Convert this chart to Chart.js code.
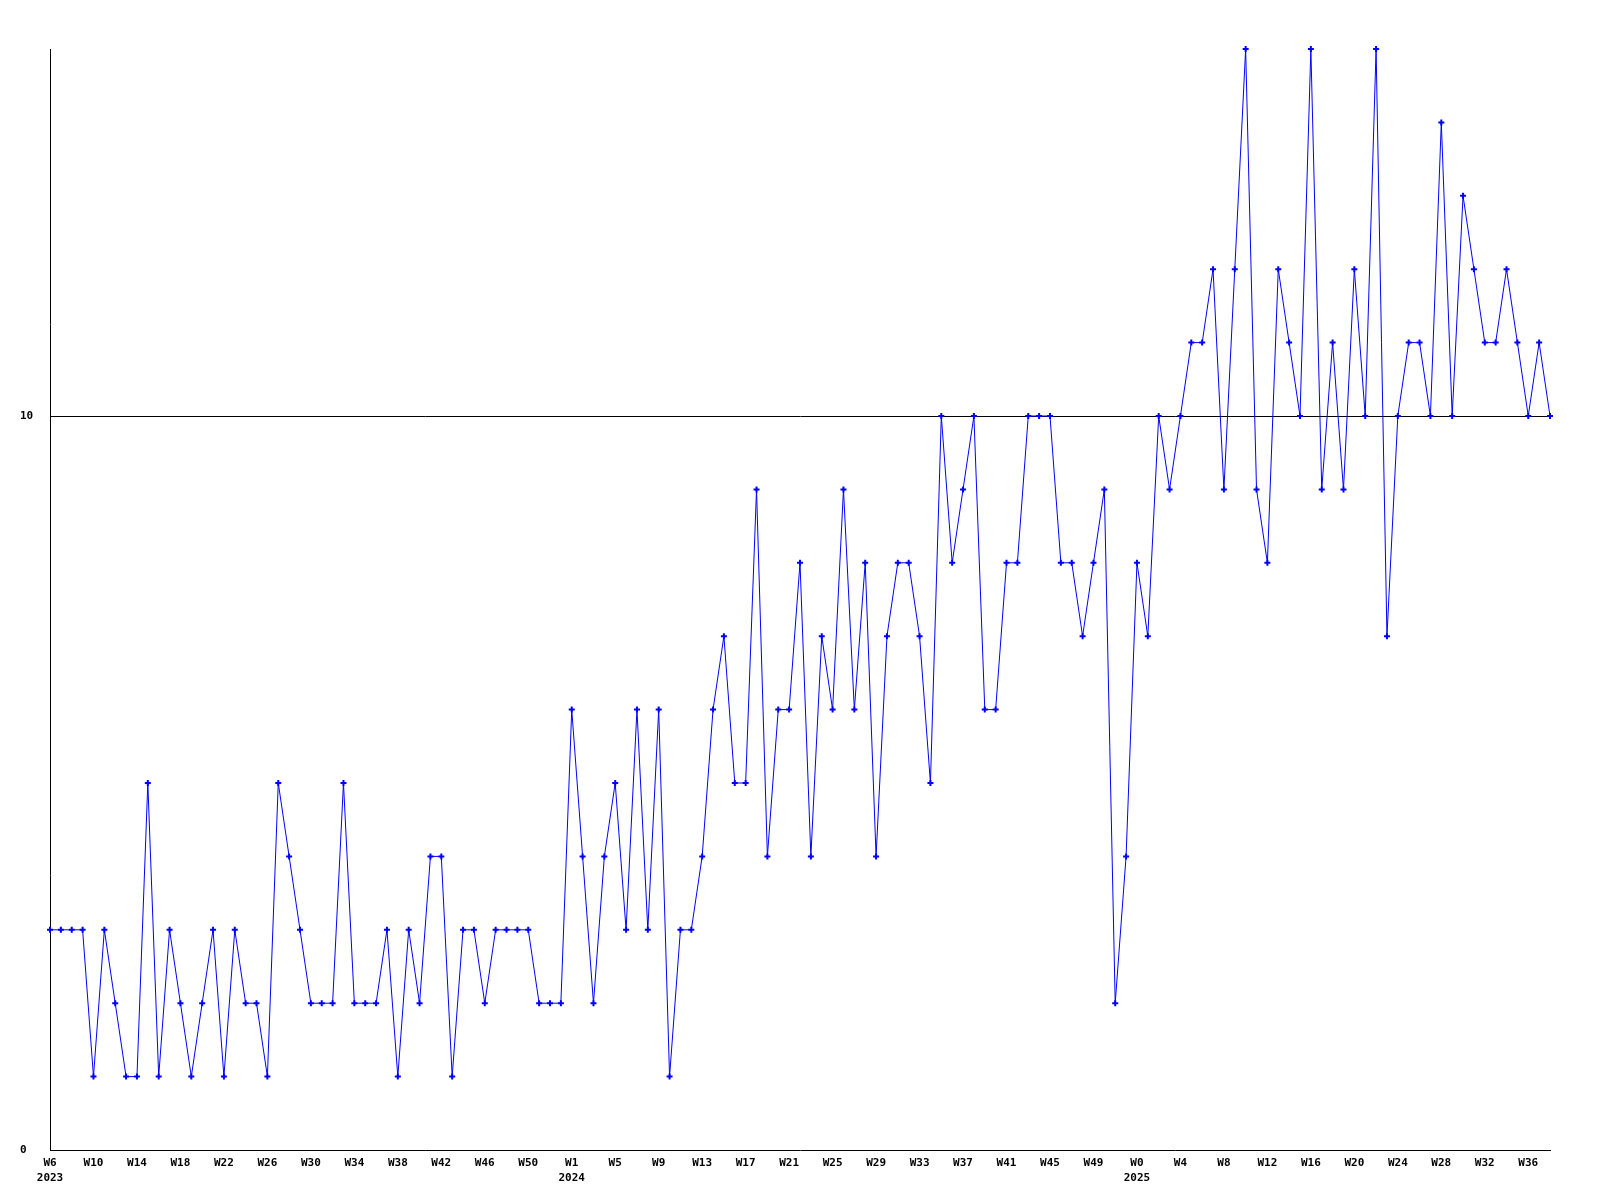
<!DOCTYPE html>
<html>
<head>
<meta charset="utf-8">
<script src="https://cdn.jsdelivr.net/npm/chart.js@4/dist/chart.umd.min.js"></script>
<style>
  html, body { margin: 0; padding: 0; background: #fff; }
</style>
</head>
<body>
<canvas id="weeklyChart" width="1600" height="1200"></canvas>
<script>
// weekly counts, one point per week
const years = [2023, 2024, 2025];
const firstWeek = [6, 1, 0];
const lastWeek = [53, 52, 38];

const counts2023 = [3, 3, 3, 3, 1, 3, 2, 1, 1, 5, 1, 3, 2, 1, 2, 3, 1, 3, 2, 2, 1, 5, 4, 3,
  2, 2, 2, 5, 2, 2, 2, 3, 1, 3, 2, 4, 4, 1, 3, 3, 2, 3, 3, 3, 3, 2, 2, 2];
const counts2024 = [6, 4, 2, 4, 5, 3, 6, 3, 6, 1, 3, 3, 4, 6, 7, 5, 5, 9, 4, 6, 6, 8, 4, 7, 6, 9,
  6, 8, 4, 7, 8, 8, 7, 5, 10, 8, 9, 10, 6, 6, 8, 8, 10, 10, 10, 8, 8, 7, 8, 9, 2, 4];
const counts2025 = [8, 7, 10, 9, 10, 11, 11, 12, 9, 12, 15, 9, 8, 12, 11, 10, 15, 9, 11, 9,
  12, 10, 15, 7, 10, 11, 11, 10, 14, 10, 13, 12, 11, 11, 12, 11, 10, 11, 10];

const yTicks = [0, 10];
const yMax = 15;
const labelEvery = 4;

// build week labels and remember where each year starts
const weekLabels = [];
const yearStart = {};
years.forEach((y, k) => {
  yearStart[weekLabels.length] = y;
  for (let w = firstWeek[k]; w <= lastWeek[k]; w++) weekLabels.push('W' + w);
});
const counts = [...counts2023, ...counts2024, ...counts2025];

Chart.defaults.font.family = "'DejaVu Sans Mono', 'Liberation Mono', monospace";
Chart.defaults.font.size = 11;
Chart.defaults.font.weight = 'bold';
Chart.defaults.color = '#000';

const ctx = document.getElementById('weeklyChart').getContext('2d');

new Chart(ctx, {
  type: 'line',
  data: {
    labels: weekLabels,
    datasets: [{
      data: counts,
      borderColor: '#0000ff',
      backgroundColor: '#0000ff',
      borderWidth: 1,
      tension: 0,
      fill: false,
      clip: false,
      pointStyle: 'cross',
      pointRadius: 3,
      pointBorderWidth: 2,
      pointHoverRadius: 3
    }]
  },
  options: {
    responsive: false,
    animation: false,
    devicePixelRatio: 1,
    layout: {
      padding: { top: 49, right: 50, left: 20, bottom: 0 }
    },
    plugins: {
      legend: { display: false },
      tooltip: { enabled: false }
    },
    scales: {
      x: {
        grid: { display: false, drawTicks: false },
        border: { display: true, color: '#000', width: 1 },
        afterFit: axis => { axis.height = 50; },
        ticks: {
          autoSkip: false,
          maxRotation: 0,
          minRotation: 0,
          padding: 6,
          font: { lineHeight: 15 / 11 },
          callback: function (val, index) {
            if (index % labelEvery !== 0) return null;
            const lab = weekLabels[index];
            return yearStart[index] !== undefined ? [lab, String(yearStart[index])] : lab;
          }
        }
      },
      y: {
        min: 0,
        max: yMax,
        afterBuildTicks: axis => { axis.ticks = yTicks.map(v => ({ value: v })); },
        afterFit: axis => { axis.width = 30; },
        grid: {
          drawTicks: false,
          lineWidth: 1,
          color: c => (c.tick && c.tick.value === 10 ? '#000' : 'rgba(0,0,0,0)')
        },
        border: { display: true, color: '#000', width: 1 },
        ticks: {
          crossAlign: 'far',
          padding: 0
        }
      }
    }
  }
});
</script>
</body>
</html>
